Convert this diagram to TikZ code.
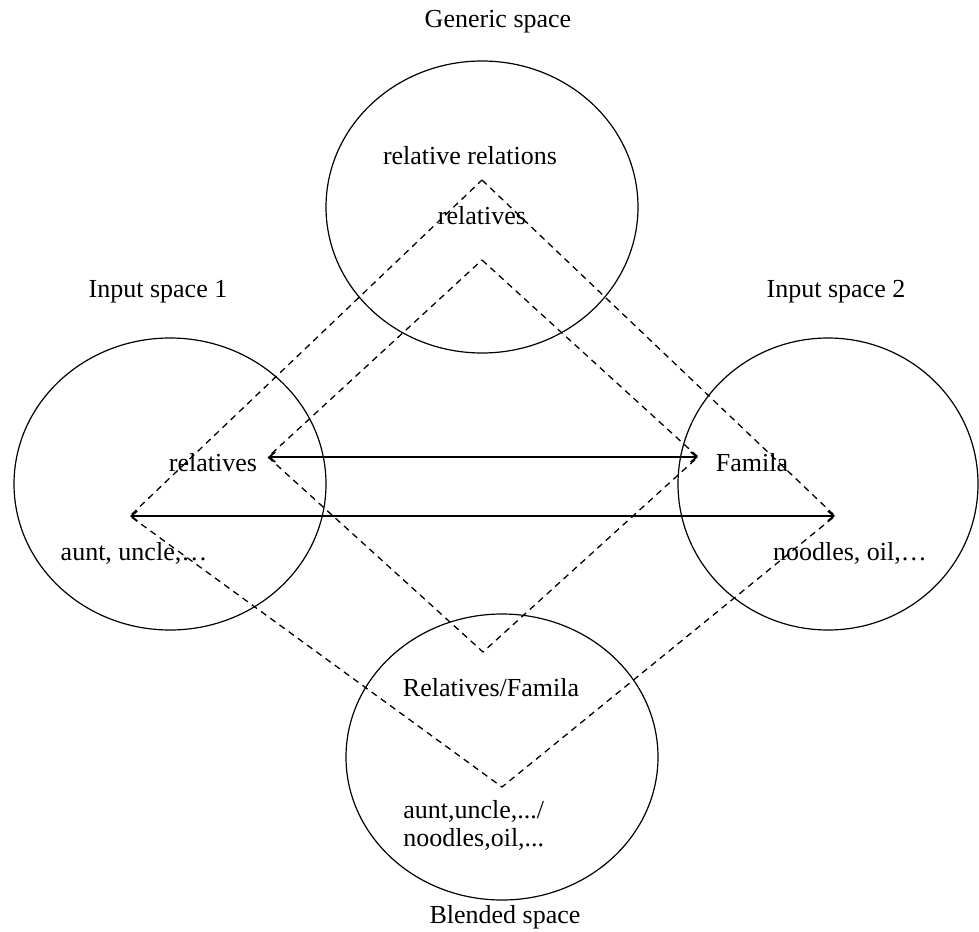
\documentclass[tikz,border=0pt]{standalone}
\usepackage{fontspec}
\setmainfont{Liberation Serif}
\usetikzlibrary{shapes.geometric,arrows.meta}
\begin{document}
\begin{tikzpicture}[x=0.5pt,y=-0.5pt,
  space/.style={draw,ellipse,line width=0.6pt,inner sep=0pt},
  lbl/.style={font=\fontsize{13}{14}\selectfont,inner sep=0pt},
  frame/.style={dashed,line width=0.65pt,dash pattern=on 3.2pt off 2.5pt},
  link/.style={line width=0.8pt,{Straight Barb[length=3pt,width=5pt]}-{Straight Barb[length=3pt,width=5pt]}}]
\useasboundingbox (0,0) rectangle (979,931);

% the four mental spaces
\node[space,minimum width=156pt,minimum height=146pt] (generic) at (482,207) {};
\node[space,minimum width=156pt,minimum height=146pt] (input1) at (170,484) {};
\node[space,minimum width=150pt,minimum height=146pt] (input2) at (828,484) {};
\node[space,minimum width=156pt,minimum height=143pt] (blend) at (502,757) {};

% space titles
\node[lbl] (tgen) at (498,22) {Generic space};
\node[lbl] (tin1) at (158,292) {Input space 1};
\node[lbl] (tin2) at (836,292) {Input space 2};
\node[lbl] (tbl) at (505,917) {Blended space};

% contents
\node[lbl] (grel) at (470,156) {relative relations};
\node[lbl] (gent) at (482,216) {relatives};
\node[lbl] (i1a) at (213,463) {relatives};
\node[lbl] (i1b) at (134,553) {aunt, uncle,\dots};
\node[lbl] (i2a) at (752,463) {Famila};
\node[lbl] (i2b) at (850,553) {noodles, oil,\dots};
\node[lbl] (bla) at (491,688) {Relatives/Famila};
\node[lbl,align=left,anchor=north west] (blb) at (403,800) {aunt,uncle,.../\\noodles,oil,...};

% corners of the projection frames
\coordinate (it) at (482,260);
\coordinate (il) at (268,457);
\coordinate (ir) at (698,457);
\coordinate (ib) at (483,652);
\coordinate (ot) at (482,180);
\coordinate (ol) at (130,516);
\coordinate (or) at (835,516);
\coordinate (ob) at (502,787);

\draw[frame] (it) -- (ir) -- (ib) -- (il) -- cycle;
\draw[frame] (ot) -- (or) -- (ob) -- (ol) -- cycle;

% cross-space mappings
\draw[link] (il) -- (ir);
\draw[link] (ol) -- (or);
\end{tikzpicture}
\end{document}
